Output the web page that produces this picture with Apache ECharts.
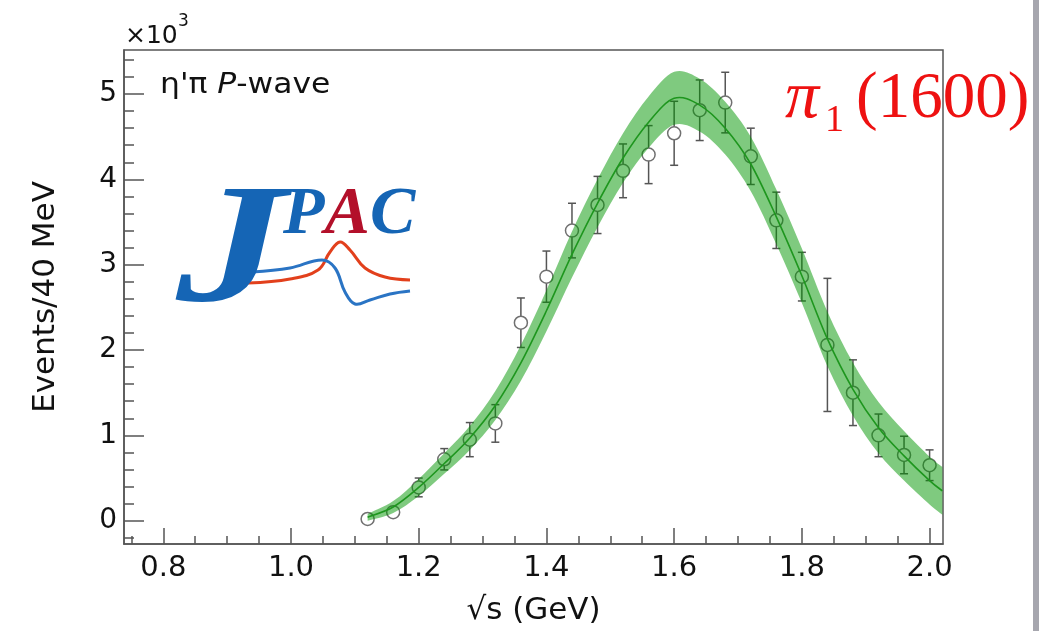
<!DOCTYPE html>
<html>
<head>
<meta charset="utf-8">
<script src="https://cdn.jsdelivr.net/npm/echarts@6/dist/echarts.min.js"></script>
<style>
html,body{margin:0;padding:0;background:#fff;}
#chart{width:1048px;height:631px;}
</style>
</head>
<body>
<div id="chart"></div>
<script>
// ---- data (y in units of 10^3 events / 40 MeV) ----
var binX = [1.12,1.16,1.20,1.24,1.28,1.32,1.36,1.40,1.44,1.48,1.52,1.56,1.60,1.64,1.68,1.72,1.76,1.80,1.84,1.88,1.92,1.96,2.00];
var events = [0.02,0.10,0.39,0.72,0.95,1.14,2.32,2.86,3.40,3.70,4.10,4.29,4.54,4.81,4.90,4.27,3.52,2.86,2.06,1.50,1.00,0.77,0.65];
var eventErr = [0.03,0.05,0.11,0.125,0.20,0.22,0.29,0.30,0.32,0.335,0.315,0.34,0.375,0.355,0.355,0.33,0.33,0.285,0.78,0.385,0.25,0.22,0.18];

var fitX = [1.12,1.16,1.20,1.24,1.28,1.32,1.36,1.40,1.44,1.48,1.52,1.56,1.60,1.64,1.68,1.72,1.76,1.80,1.84,1.88,1.92,1.96,2.00,2.02];
var fitY = [0.04,0.16,0.39,0.67,0.97,1.35,1.85,2.46,3.12,3.72,4.25,4.67,4.95,4.87,4.60,4.18,3.56,2.87,2.13,1.54,1.09,0.76,0.47,0.35];
var bandHalf = [0.04,0.07,0.10,0.12,0.14,0.17,0.21,0.24,0.27,0.28,0.29,0.30,0.31,0.31,0.31,0.32,0.32,0.32,0.32,0.31,0.30,0.29,0.28,0.28];

var xMajorTicks = [0.8,1.0,1.2,1.4,1.6,1.8,2.0];
var xMinorTicks = [0.75,0.85,0.9,0.95,1.05,1.1,1.15,1.25,1.3,1.35,1.45,1.5,1.55,1.65,1.7,1.75,1.85,1.9,1.95];
var yMajorTicks = [0,1,2,3,4,5];
var yMinorTicks = [-0.2,0.2,0.4,0.6,0.8,1.2,1.4,1.6,1.8,2.2,2.4,2.6,2.8,3.2,3.4,3.6,3.8,4.2,4.4,4.6,4.8,5.2,5.4];

var xRange = [0.7385, 2.021];
var yRange = [-0.273, 5.516];

// ---- build series data ----
var pts = binX.map(function(x,i){return [x, events[i], eventErr[i]];});
var fitData = fitX.map(function(x,i){return [x, fitY[i], bandHalf[i]];});

// Catmull-Rom -> cubic bezier path segments through pixel points
function splineSegs(p){
  var s='';
  for(var i=0;i<p.length-1;i++){
    var p0=p[Math.max(i-1,0)], p1=p[i], p2=p[i+1], p3=p[Math.min(i+2,p.length-1)];
    var c1x=p1[0]+(p2[0]-p0[0])/6, c1y=p1[1]+(p2[1]-p0[1])/6;
    var c2x=p2[0]-(p3[0]-p1[0])/6, c2y=p2[1]-(p3[1]-p1[1])/6;
    s+=' C'+c1x+' '+c1y+' '+c2x+' '+c2y+' '+p2[0]+' '+p2[1];
  }
  return s;
}

var chart = echarts.init(document.getElementById('chart'), null, {renderer:'canvas'});
var axisCol = '#555';
var font = 'DejaVu Sans';

var option = {
  animation:false,
  backgroundColor:'#fff',
  grid:{left:124, right:105, top:50, bottom:84, show:true, borderColor:axisCol, borderWidth:1.5, backgroundColor:'rgba(0,0,0,0)'},
  xAxis:[
    {type:'value', min:xRange[0], max:xRange[1], position:'bottom',
     axisLine:{show:true, onZero:false, lineStyle:{color:axisCol,width:1.5}},
     axisTick:{show:true, inside:true, length:16, customValues:xMajorTicks, lineStyle:{color:axisCol,width:1.5}},
     axisLabel:{show:true, customValues:xMajorTicks, margin:10, fontSize:29, fontFamily:font, color:'#111',
       formatter:function(v){return v.toFixed(1);}},
     splitLine:{show:false},
     name:'\u221As (GeV)', nameLocation:'middle', nameGap:51,
     nameTextStyle:{fontSize:31, fontFamily:font, color:'#111'}},
    {type:'value', min:xRange[0], max:xRange[1], position:'bottom',
     axisLine:{show:false, onZero:false},
     axisTick:{show:true, inside:true, length:8, customValues:xMinorTicks, lineStyle:{color:axisCol,width:1.5}},
     axisLabel:{show:false}, splitLine:{show:false}}
  ],
  yAxis:[
    {type:'value', min:yRange[0], max:yRange[1], position:'left',
     axisLine:{show:true, onZero:false, lineStyle:{color:axisCol,width:1.5}},
     axisTick:{show:true, inside:true, length:20, customValues:yMajorTicks, lineStyle:{color:axisCol,width:1.5}},
     axisLabel:{show:true, customValues:yMajorTicks, margin:7, fontSize:28, fontFamily:font, color:'#111',
       formatter:function(v){return String(Math.round(v));}},
     splitLine:{show:false},
     name:'Events/40 MeV', nameLocation:'middle', nameGap:63, nameRotate:90,
     nameTextStyle:{fontSize:31, fontFamily:font, color:'#111'}},
    {type:'value', min:yRange[0], max:yRange[1], position:'left',
     axisLine:{show:false, onZero:false},
     axisTick:{show:true, inside:true, length:10, customValues:yMinorTicks, lineStyle:{color:axisCol,width:1.5}},
     axisLabel:{show:false}, splitLine:{show:false}}
  ],
  series:[
    {type:'custom', name:'errors', xAxisIndex:0, yAxisIndex:0, z:1, silent:true,
     data:pts,
     renderItem:function(params, api){
       var x=api.value(0), y=api.value(1), e=api.value(2);
       var t=api.coord([x,y+e]), b=api.coord([x,y-e]);
       var hw=4, st={stroke:'#555', lineWidth:1.5};
       return {type:'group', children:[
         {type:'line', shape:{x1:t[0],y1:t[1],x2:b[0],y2:b[1]}, style:st},
         {type:'line', shape:{x1:t[0]-hw,y1:t[1],x2:t[0]+hw,y2:t[1]}, style:st},
         {type:'line', shape:{x1:b[0]-hw,y1:b[1],x2:b[0]+hw,y2:b[1]}, style:st}
       ]};
     }},
    {type:'scatter', name:'data', xAxisIndex:0, yAxisIndex:0, z:1, silent:true,
     data:pts.map(function(p){return [p[0],p[1]];}),
     symbol:'circle', symbolSize:13,
     itemStyle:{color:'#fff', borderColor:'#707070', borderWidth:1.5, opacity:1}},
    {type:'custom', name:'fit', xAxisIndex:0, yAxisIndex:0, z:2, silent:true,
     data:fitData,
     renderItem:function(params, api){
       if(params.dataIndex!==0) return null;
       var up=[], lo=[], mid=[];
       for(var i=0;i<fitX.length;i++){
         up.push(api.coord([fitX[i], fitY[i]+bandHalf[i]]));
         lo.push(api.coord([fitX[i], fitY[i]-bandHalf[i]]));
         mid.push(api.coord([fitX[i], fitY[i]]));
       }
       var loR=lo.slice().reverse();
       var band='M'+up[0][0]+' '+up[0][1]+splineSegs(up)+' L'+loR[0][0]+' '+loR[0][1]+splineSegs(loR)+' Z';
       var line='M'+mid[0][0]+' '+mid[0][1]+splineSegs(mid);
       return {type:'group', children:[
         {type:'path', shape:{pathData:band}, style:{fill:'rgba(0,150,0,0.5)', stroke:null}},
         {type:'path', shape:{pathData:line}, style:{fill:null, stroke:'#1e961e', lineWidth:1.6}}
       ]};
     }}
  ],
  graphic:[
    {type:'rect', left:1033, top:0, shape:{width:6, height:631}, style:{fill:'#a6a6ae'}, z:0},
    {type:'text', x:125, y:36, z:5, style:{text:'\u00D710', font:'25px "DejaVu Sans"', fill:'#111', verticalAlign:'middle'}},
    {type:'text', x:178, y:22, z:5, style:{text:'3', font:'17px "DejaVu Sans"', fill:'#111', verticalAlign:'middle'}},
    {type:'text', x:160, y:86, z:5, scaleX:1.12, style:{
      text:'{u|\u03B7\'\u03C0 }{i|P}{u|-wave}', verticalAlign:'middle',
      rich:{u:{fontSize:28, fontFamily:font, fill:'#111'}, i:{fontSize:28, fontFamily:font, fontStyle:'italic', fill:'#111'}}}},
    {type:'text', x:785, y:99, z:-1, style:{text:'\u03C0', font:'italic 68px "Liberation Serif"', fill:'#ee1111', verticalAlign:'middle'}},
    {type:'text', x:825, y:121, z:-1, style:{text:'1', font:'38px "Liberation Serif"', fill:'#ee1111', verticalAlign:'middle'}},
    {type:'text', x:856, y:100, z:-1, style:{text:'(1600)', font:'65px "Liberation Serif"', fill:'#ee1111', verticalAlign:'middle'}},
    // JPAC logo
    {type:'polyline', z:5, shape:{points:[[248,283],[290,279],[318,270],[330,252],[340,242],[350,250],[365,268],[385,277],[410,280]], smooth:0.4},
     style:{stroke:'#e2401c', lineWidth:3, fill:null}},
    {type:'polyline', z:5, shape:{points:[[252,272],[290,268],[322,260],[335,268],[345,292],[355,304],[370,300],[390,294],[410,291]], smooth:0.4},
     style:{stroke:'#2a74c4', lineWidth:3, fill:null}},
    {type:'text', x:176, y:256, z:7, scaleX:1.3, style:{text:'J', font:'italic bold 170px "Liberation Serif"', fill:'#1565b5', verticalAlign:'middle'}},
    {type:'text', x:283, y:215, z:7, style:{text:'{b|P}{r|A}{b|C}', verticalAlign:'middle',
      rich:{b:{fontSize:68, fontFamily:'Liberation Serif', fontStyle:'italic', fontWeight:'bold', fill:'#1565b5'},
            r:{fontSize:68, fontFamily:'Liberation Serif', fontStyle:'italic', fontWeight:'bold', fill:'#b3102a'}}}}
  ]
};
chart.setOption(option);
</script>
</body>
</html>
